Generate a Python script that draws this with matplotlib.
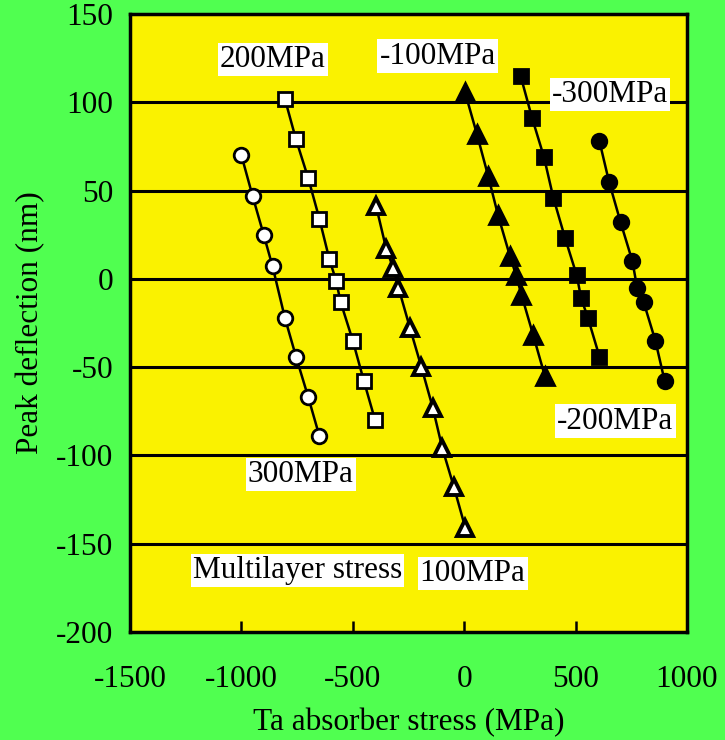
import matplotlib.pyplot as plt

plt.rcParams['font.family'] = ['Liberation Serif', 'DejaVu Serif']
plt.rcParams['axes.unicode_minus'] = False

# Peak deflection (nm) vs Ta absorber stress (MPa) for each multilayer stress
x_300 = [-1000, -950, -900, -860, -805, -755, -700, -650]
y_300 = [70, 47, 25, 7, -22, -44, -67, -89]

x_200 = [-805, -755, -700, -650, -605, -575, -555, -500, -450, -400]
y_200 = [102, 79, 57, 34, 11, -1, -13, -35, -58, -80]

x_100 = [-395, -350, -318, -295, -243, -192, -141, -98, -46, 5]
y_100 = [41, 17, 6, -5, -28, -50, -73, -96, -118, -141]

x_m100 = [3, 57, 108, 152, 205, 233, 257, 310, 362]
y_m100 = [106, 82, 58, 36, 13, 2, -9, -32, -55]

x_m300 = [253, 305, 358, 400, 453, 505, 525, 555, 607]
y_m300 = [115, 91, 69, 46, 23, 2, -11, -22, -44]

x_m200 = [607, 650, 702, 755, 776, 805, 858, 900]
y_m200 = [78, 55, 32, 10, -5, -13, -35, -58]

x_ticks = [-1500, -1000, -500, 0, 500, 1000]
y_ticks = [-200, -150, -100, -50, 0, 50, 100, 150]

fs = 22.5

fig = plt.figure(figsize=(7.25, 7.4), dpi=100, facecolor='#50FF50')
ax = fig.add_axes([130 / 725, 1 - 632 / 740, 557 / 725, 618 / 740])
ax.set_facecolor('#FAF200')

for y in y_ticks[1:-1]:
    ax.axhline(y, color='black', lw=2.2, zorder=1)

def series(x, y, marker, fill, ms, mew=2.0):
    ax.plot(x, y, color='black', lw=1.8, marker=marker, ms=ms,
            mfc=fill, mec='black', mew=mew, zorder=3)

series(x_300, y_300, 'o', 'white', 10.5)
series(x_200, y_200, 's', 'white', 10.5)
series(x_100, y_100, '^', 'white', 11.5, mew=2.8)
series(x_m100, y_m100, '^', 'black', 13)
series(x_m300, y_m300, 's', 'black', 10.5)
series(x_m200, y_m200, 'o', 'black', 10.5)

labels = [
    ('200MPa', -858, 124.4),
    ('-100MPa', -119, 126.2),
    ('-300MPa', 655, 104.3),
    ('-200MPa', 678, -80.6),
    ('300MPa', -734, -110.7),
    ('Multilayer stress', -748, -165.1),
    ('100MPa', 38, -167),
]
for text, lx, ly in labels:
    ax.text(lx, ly, text, fontsize=fs, ha='center', va='center', zorder=4,
            bbox=dict(facecolor='white', edgecolor='none', pad=1.5))

ax.set_xlim(-1500, 1000)
ax.set_ylim(-200, 150)
ax.set_xticks(x_ticks)
ax.set_yticks(y_ticks)
ax.tick_params(direction='in', length=8, width=1.8, labelsize=fs)
ax.tick_params(axis='x', pad=24)
ax.tick_params(axis='y', pad=12)
for s in ax.spines.values():
    s.set_linewidth(2.5)

ax.set_xlabel('Ta absorber stress (MPa)', fontsize=fs, labelpad=10)
ax.set_ylabel('Peak deflection (nm)', fontsize=fs, labelpad=8)

fig.savefig('out.png', dpi=100, facecolor=fig.get_facecolor())
